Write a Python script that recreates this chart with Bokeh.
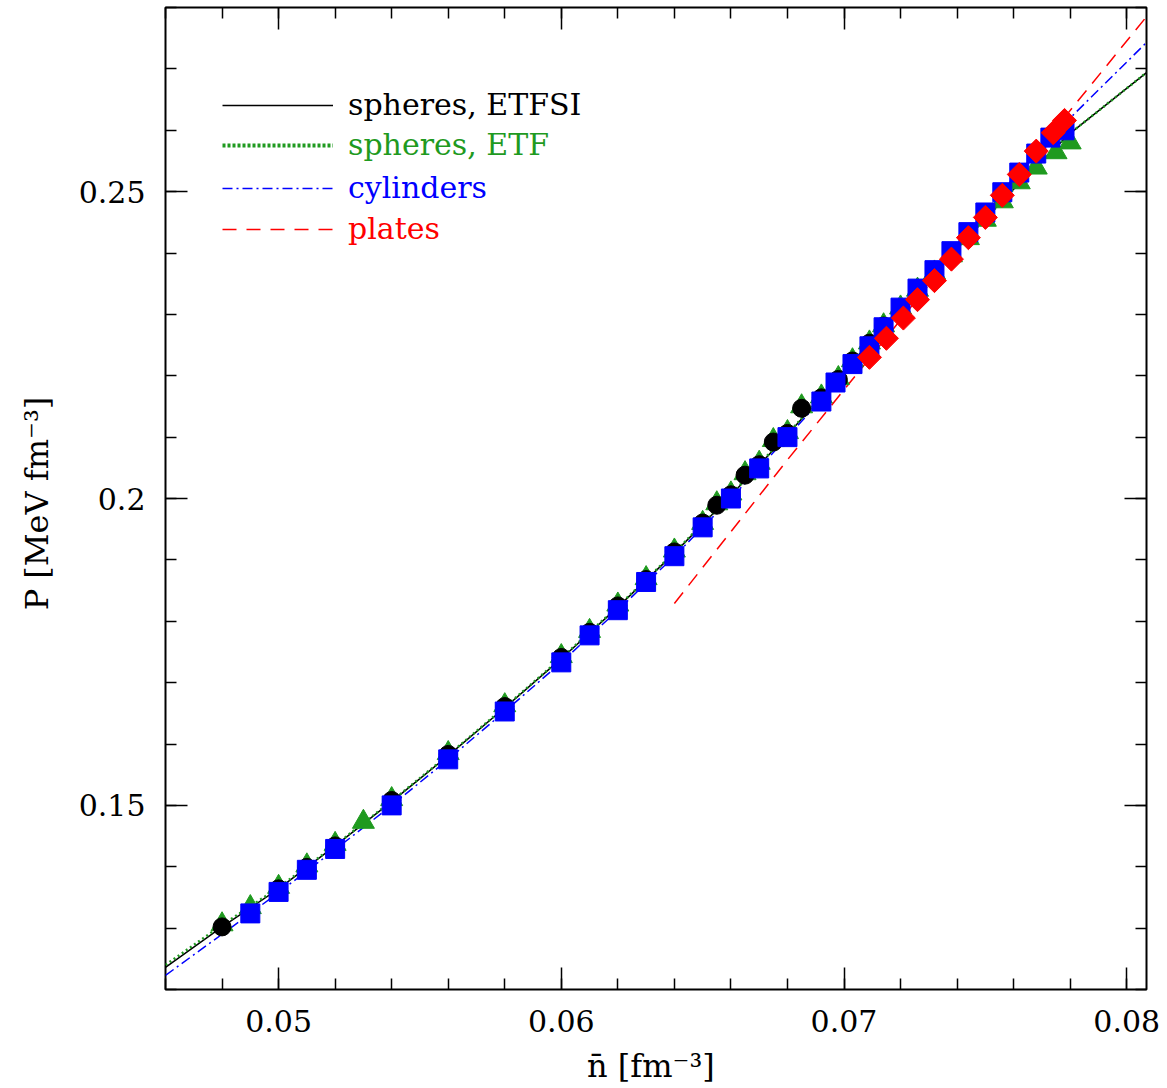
import math
from bokeh.plotting import figure
from bokeh.models import (Range1d, LinearAxis, SingleIntervalTicker, CustomJSTickFormatter,
                          Legend, LegendItem)
from bokeh.embed import file_html
from bokeh.resources import INLINE

# ---------------- data ----------------
# curves: mean baryon density n [fm^-3] vs pressure P [MeV fm^-3]
n_curve = [0.046, 0.048, 0.050, 0.052, 0.054, 0.056, 0.058, 0.060, 0.062, 0.064,
           0.066, 0.068, 0.070, 0.072, 0.074, 0.076, 0.078, 0.0807]
P_spheres_etfsi = [0.1236, 0.1302, 0.1364, 0.1434, 0.1506, 0.1581, 0.1659, 0.1739, 0.1823, 0.1911,
                   0.2005, 0.2104, 0.2207, 0.2311, 0.2408, 0.2504, 0.2595, 0.2694]
P_spheres_etf = [0.1240, 0.1305, 0.1366, 0.1435, 0.1507, 0.1582, 0.1660, 0.1740, 0.1824, 0.1912,
                 0.2006, 0.2105, 0.2207, 0.2311, 0.2408, 0.2504, 0.2595, 0.2694]
P_cylinders = [0.1223, 0.1290, 0.1358, 0.1428, 0.1500, 0.1575, 0.1653, 0.1733, 0.1818, 0.1906,
               0.2000, 0.2100, 0.2203, 0.2310, 0.2412, 0.2522, 0.2620, 0.2743]
n_plates_curve = [0.064, 0.068, 0.072, 0.076, 0.0807]
P_plates_curve = [0.1829, 0.2063, 0.2291, 0.2519, 0.2785]

# markers
n_circ = [0.048, 0.050, 0.051, 0.052, 0.054, 0.056, 0.058, 0.060, 0.061, 0.062, 0.063, 0.064,
          0.065, 0.0655, 0.066, 0.0665, 0.067, 0.0675, 0.068, 0.0685, 0.0692, 0.0698, 0.0703,
          0.0709, 0.0714]
P_circ = [0.1302, 0.1364, 0.1399, 0.1434, 0.1508, 0.1583, 0.1661, 0.1741, 0.1782, 0.1825, 0.1868,
          0.1913, 0.1960, 0.1989, 0.2006, 0.2038, 0.2055, 0.2092, 0.2106, 0.2147, 0.2164, 0.2194,
          0.2224, 0.2253, 0.2281]

n_tri = [0.048, 0.049, 0.050, 0.051, 0.052, 0.053, 0.054, 0.056, 0.058, 0.060, 0.061, 0.062,
         0.063, 0.064, 0.065, 0.0655, 0.066, 0.0665, 0.067, 0.0675, 0.068, 0.0685, 0.0692, 0.0698,
         0.0703, 0.0709, 0.0714, 0.0720, 0.0726, 0.0732, 0.0738, 0.0744, 0.0750, 0.0756, 0.0762,
         0.0768, 0.0775, 0.0780]
P_tri = [0.1306, 0.1334, 0.1367, 0.1402, 0.1437, 0.1473, 0.1510, 0.1585, 0.1663, 0.1743, 0.1784,
         0.1827, 0.1870, 0.1915, 0.1960, 0.1992, 0.2008, 0.2041, 0.2058, 0.2095, 0.2108, 0.2150,
         0.2166, 0.2196, 0.2225, 0.2254, 0.2282, 0.2311, 0.2340, 0.2368, 0.2396, 0.2424, 0.2454,
         0.2484, 0.2515, 0.2539, 0.2564, 0.2580]

n_sq = [0.049, 0.050, 0.051, 0.052, 0.054, 0.056, 0.058, 0.060, 0.061, 0.062, 0.063, 0.064,
        0.065, 0.066, 0.067, 0.068, 0.0692, 0.0697, 0.0703, 0.0709, 0.0714, 0.0720, 0.0726,
        0.0732, 0.0738, 0.0744, 0.0750, 0.0756, 0.0762, 0.0768, 0.0773, 0.0778]
P_sq = [0.1324, 0.1359, 0.1395, 0.1429, 0.1500, 0.1575, 0.1653, 0.1733, 0.1777, 0.1818, 0.1864,
        0.1906, 0.1953, 0.2000, 0.2049, 0.2100, 0.2158, 0.2189, 0.2219, 0.2248, 0.2279, 0.2311,
        0.2342, 0.2372, 0.2403, 0.2434, 0.2466, 0.2499, 0.2531, 0.2562, 0.2588, 0.2600]

n_dia = [0.0709, 0.0715, 0.0721, 0.0726, 0.0732, 0.0738, 0.0744, 0.0750, 0.0756, 0.0762,
         0.0768, 0.0774, 0.0778]
P_dia = [0.2230, 0.2261, 0.2294, 0.2324, 0.2355, 0.2390, 0.2425, 0.2458, 0.2494, 0.2528,
         0.2566, 0.2596, 0.2616]

x_ticks_interval = 0.01
y_ticks_interval = 0.05

GREEN = "#1f9a1f"
BLUE = "#0000ff"
RED = "#ff0000"
FONT = "DejaVu Serif"

# ---------------- figure ----------------
p = figure(width=1167, height=1088, output_backend="svg", toolbar_location=None,
           x_range=Range1d(0.046, 0.0807), y_range=Range1d(0.12, 0.28),
           x_axis_location=None, y_axis_location=None,
           min_border_left=165, min_border_right=21, min_border_top=7, min_border_bottom=99)
p.outline_line_color = "black"
p.outline_line_width = 2
p.background_fill_color = "white"
p.border_fill_color = "white"
p.grid.visible = False
for g in p.xgrid + p.ygrid:
    g.grid_line_color = None


def make_axis(interval, labels=True, label=None, label_standoff=14):
    if labels:
        fmt = CustomJSTickFormatter(code="return Number(tick.toFixed(4)).toString();")
    else:
        fmt = CustomJSTickFormatter(code="return '';")
    ax = LinearAxis(ticker=SingleIntervalTicker(interval=interval, num_minor_ticks=5),
                    formatter=fmt)
    ax.major_tick_in = 22
    ax.major_tick_out = 0
    ax.minor_tick_in = 11
    ax.minor_tick_out = 0
    ax.major_tick_line_width = 1.5
    ax.minor_tick_line_width = 1.5
    ax.major_tick_line_color = "black"
    ax.minor_tick_line_color = "black"
    ax.axis_line_color = None
    if labels:
        ax.major_label_text_font = FONT
        ax.major_label_text_font_size = "30px"
        ax.major_label_text_color = "black"
        ax.major_label_standoff = 20
    else:
        ax.major_label_standoff = 0
    if label:
        ax.axis_label = label
        ax.axis_label_text_font = FONT
        ax.axis_label_text_font_size = "32px"
        ax.axis_label_text_font_style = "normal"
        ax.axis_label_text_color = "black"
        ax.axis_label_standoff = label_standoff
    return ax


p.add_layout(make_axis(x_ticks_interval, True, "n\u0304  [fm\u207b\u00b3]", 12), "below")
p.add_layout(make_axis(y_ticks_interval, True, "P  [MeV fm\u207b\u00b3]", 20), "left")
p.add_layout(make_axis(x_ticks_interval, False), "above")
p.add_layout(make_axis(y_ticks_interval, False), "right")

# ---------------- curves ----------------
p.line(n_curve, P_spheres_etfsi, line_color="black", line_width=1.5)
p.line(n_curve, P_spheres_etf, line_color=GREEN, line_width=2.5, line_dash="2 3")
p.line(n_curve, P_cylinders, line_color=BLUE, line_width=1.5, line_dash="10 4 2 4")
p.line(n_plates_curve, P_plates_curve, line_color=RED, line_width=1.5, line_dash="14 9")

# ---------------- markers ----------------
p.scatter(n_tri, P_tri, marker="triangle", size=22, fill_color=GREEN, line_color=GREEN)
p.scatter(n_circ, P_circ, marker="circle", size=18, fill_color="black", line_color="black")
p.scatter(n_sq, P_sq, marker="square", size=19, fill_color=BLUE, line_color=BLUE)
p.scatter(n_dia, P_dia, marker="square", size=17, angle=math.pi / 4,
          fill_color=RED, line_color=RED)

# ---------------- legend (one per entry, coloured labels) ----------------
# single-point lines: they draw nothing in the frame, only the legend sample
lg_black = p.line(n_curve[:1], P_spheres_etfsi[:1], line_color="black", line_width=1.5)
lg_green = p.line(n_curve[:1], P_spheres_etf[:1], line_color=GREEN, line_width=4, line_dash="3 2")
lg_blue = p.line(n_curve[:1], P_cylinders[:1], line_color=BLUE, line_width=1.5,
                 line_dash="10 4 2 4")
lg_red = p.line(n_plates_curve[:1], P_plates_curve[:1], line_color=RED, line_width=1.5,
                line_dash="14 10")

legend_labels = ["spheres, ETFSI", "spheres, ETF", "cylinders", "plates"]
legend_colors = ["black", GREEN, BLUE, RED]
legend_renderers = [lg_black, lg_green, lg_blue, lg_red]
legend_bottoms = [867, 827, 784, 743]

for rend, lab, col, yb in zip(legend_renderers, legend_labels, legend_colors, legend_bottoms):
    lg = Legend(items=[LegendItem(label=lab, renderers=[rend])], location=(57, yb))
    lg.glyph_width = 111
    lg.glyph_height = 34
    lg.label_height = 34
    lg.label_standoff = 15
    lg.padding = 0
    lg.margin = 0
    lg.spacing = 0
    lg.border_line_color = None
    lg.background_fill_alpha = 0
    lg.label_text_font = FONT
    lg.label_text_font_size = "30px"
    lg.label_text_color = col
    p.add_layout(lg)

open("out.html", "w").write(file_html(p, INLINE))
